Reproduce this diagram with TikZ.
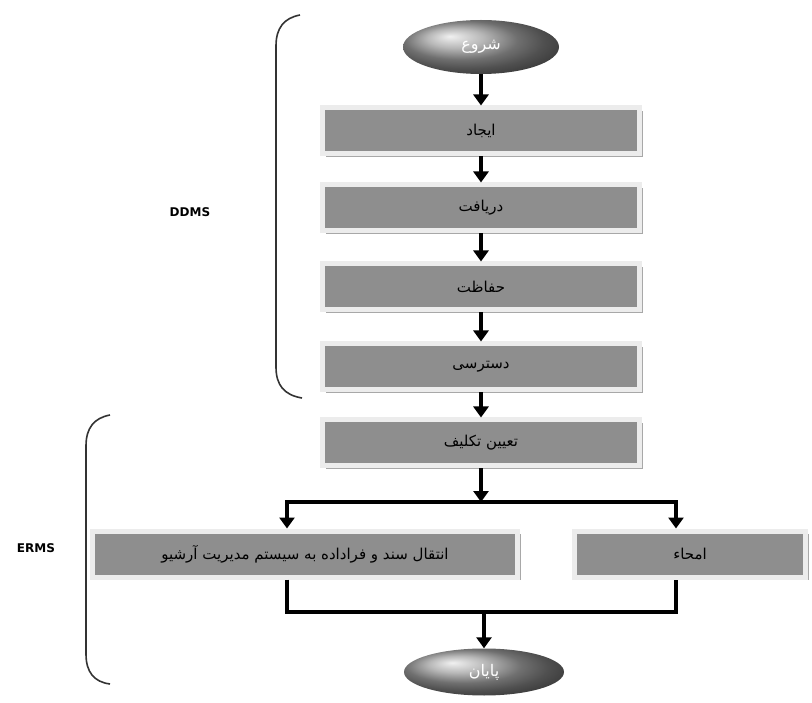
\documentclass[tikz,border=0pt]{standalone}
\usepackage{fontspec}
\usetikzlibrary{arrows.meta,shapes.geometric,shadows,calc}
\TeXXeTstate=1
\newfontfamily\fafont[Script=Arabic]{DejaVu Sans}
\newfontfamily\labfont{DejaVu Sans}
\definecolor{boxgray}{HTML}{8E8E8E}
\definecolor{framegray}{HTML}{ECECEC}
\definecolor{shadowgray}{HTML}{A8A8A8}
\tikzset{
  stepbox/.style={rectangle, fill=boxgray, draw=framegray, line width=5pt, inner sep=0pt,
    minimum height=46pt, font=\fafont\fontsize{15}{18}\selectfont, text=black,
    drop shadow={shadow xshift=3pt, shadow yshift=-3pt, fill=shadowgray, opacity=1}},
  termnode/.style={ellipse, shading=ball, ball color=gray!75, inner sep=0pt,
    font=\fafont\fontsize{16}{19}\selectfont, text=white},
  flow/.style={line width=3.5pt, -{Triangle[width=15pt,length=11pt]}},
  plainline/.style={line width=3.5pt},
  bracket/.style={line width=1.6pt, draw=black!80},
  grouplabel/.style={font=\labfont\bfseries\fontsize{12}{14}\selectfont}
}
\begin{document}
\begin{tikzpicture}[x=1pt,y=-1pt]
\useasboundingbox (0,0) rectangle (812,703);
% terminals
\node[termnode, minimum width=156pt, minimum height=54pt] (start) at (481,47) {\beginR شروع\endR};
\node[termnode, minimum width=160pt, minimum height=47pt] (stop) at (484,672) {\beginR پایان\endR};
% boxes
\node[stepbox, minimum width=317pt] (b1) at (481,131) {\beginR ایجاد\endR};
\node[stepbox, minimum width=317pt] (b2) at (481,208) {\beginR دریافت\endR};
\node[stepbox, minimum width=317pt] (b3) at (481,287) {\beginR حفاظت\endR};
\node[stepbox, minimum width=317pt] (b4) at (481,367) {\beginR دسترسی\endR};
\node[stepbox, minimum width=317pt] (b5) at (481,443) {\beginR تعیین تکلیف\endR};
\node[stepbox, minimum width=425pt] (bl) at (305,554) {\beginR انتقال سند و فراداده به سیستم مدیریت آرشیو\endR};
\node[stepbox, minimum width=231pt] (br) at (690,554) {\beginR امحاء\endR};
% junction coordinates
\coordinate (splitc) at (481,502);
\coordinate (splitl) at (287,502);
\coordinate (splitr) at (676,502);
\coordinate (joinl) at (287,612);
\coordinate (joinr) at (676,612);
\coordinate (joinc) at (484,612);
% arrows
\draw[flow] (start.south) -- (b1.north);
\draw[flow] (b1.south) -- (b2.north);
\draw[flow] (b2.south) -- (b3.north);
\draw[flow] (b3.south) -- (b4.north);
\draw[flow] (b4.south) -- (b5.north);
\draw[flow] (b5.south) -- (splitc);
\draw[plainline] ([xshift=-1.75pt]splitl) -- ([xshift=1.75pt]splitr);
\draw[flow] (splitl) -- (splitl |- bl.north);
\draw[flow] (splitr) -- (splitr |- br.north);
\draw[plainline, line join=miter] (joinl |- bl.south) -- (joinl) -- (joinr) -- (joinr |- br.south);
\draw[flow] (joinc) -- (stop.north);
% brackets
\draw[bracket] (300,15) .. controls (284,18) and (276,28) .. (276,46) -- (276,367) .. controls (276,385) and (284,395) .. (302,398);
\draw[bracket] (110,415) .. controls (94,418) and (86,428) .. (86,446) -- (86,654) .. controls (86,672) and (94,682) .. (110,684);
\node[grouplabel] (ddms) at (190,212) {DDMS};
\node[grouplabel] (erms) at (36,548) {ERMS};
\end{tikzpicture}
\end{document}
